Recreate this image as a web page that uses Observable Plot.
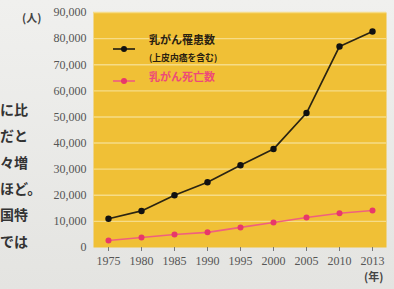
<!DOCTYPE html>
<html><head><meta charset="utf-8">
<script src="https://cdn.jsdelivr.net/npm/d3@7"></script>
<script src="https://cdn.jsdelivr.net/npm/@observablehq/plot@0.6"></script>
<style>
html,body{margin:0;padding:0;background:#e9e9e6;}
#wrap{position:relative;width:394px;height:289px;overflow:hidden;background:linear-gradient(#f0f0ee,#e4e4e1);}
.body{position:absolute;font-family:"Noto Sans CJK JP";font-size:14px;color:#333;font-weight:700;white-space:nowrap;}
.unit{position:absolute;font-family:"Noto Sans CJK JP";font-size:11px;color:#444;font-weight:700;}
.leg{position:absolute;font-family:"Noto Sans CJK JP";font-weight:700;line-height:1.05;white-space:nowrap;}
</style></head><body>
<div id="wrap"></div>
<script>
const years = ["1975","1980","1985","1990","1995","2000","2005","2010","2013"];
const incidence = [11000, 14000, 20000, 25000, 31500, 37700, 51500, 77000, 82700];
const deaths = [2700, 3800, 5000, 5800, 7700, 9600, 11500, 13100, 14200];
const yTicks = [0,10000,20000,30000,40000,50000,60000,70000,80000,90000];
const seriesNames = ["乳がん罹患数", "乳がん死亡数"];
const seriesNote = "(上皮内癌を含む)";
const bodyLines = ["に比","だと","々増","ほど。","国特","では"];

const rows = years.flatMap((y,i)=>[
  {year:y, value:incidence[i], s:seriesNames[0]},
  {year:y, value:deaths[i], s:seriesNames[1]}
]);
const black = "#2b2412", pink = "#f0607e";
const chart = Plot.plot({
  width:394, height:289,
  marginLeft:93, marginRight:8, marginTop:12, marginBottom:42,
  style:{background:"transparent", fontFamily:"Liberation Serif", fontSize:"12px", color:"#555"},
  x:{type:"point", domain:years, padding:0.43, label:null},
  y:{domain:[0,90000], label:null},
  marks:[
    Plot.frame({fill:"#f0c036", stroke:null}),
    Plot.ruleY(yTicks.slice(1), {stroke:"#f6dc88", strokeWidth:1.4}),
    Plot.axisY({ticks:yTicks, tickSize:0, tickPadding:7, tickFormat:d3.format(","), fill:"#555"}),
    Plot.axisX({tickSize:4, tickPadding:5, stroke:"#777", fill:"#555"}),
    Plot.line(rows.filter(d=>d.s===seriesNames[1]), {x:"year", y:"value", stroke:pink, strokeWidth:1.6}),
    Plot.dot(rows.filter(d=>d.s===seriesNames[1]), {x:"year", y:"value", r:3, fill:"#e8386a"}),
    Plot.line(rows.filter(d=>d.s===seriesNames[0]), {x:"year", y:"value", stroke:black, strokeWidth:1.7}),
    Plot.dot(rows.filter(d=>d.s===seriesNames[0]), {x:"year", y:"value", r:3.2, fill:"#111"})
  ]
});
const wrap = document.getElementById("wrap");
wrap.appendChild(chart);
chart.style.position="absolute"; chart.style.left="0"; chart.style.top="0";

function add(cls, html, left, top, extra){
  const d=document.createElement("div"); d.className=cls; d.innerHTML=html;
  d.style.left=left+"px"; d.style.top=top+"px";
  if(extra) Object.assign(d.style, extra);
  wrap.appendChild(d); return d;
}
bodyLines.forEach((t,i)=>add("body", t, 0, 99+i*26.3));
add("unit","(人)",22,9);
add("unit","(年)",364,268);
// legend
const sw = (c,dc)=>`<svg width="22" height="8" style="vertical-align:middle"><line x1="0" y1="4" x2="22" y2="4" stroke="${c}" stroke-width="1.7"/><circle cx="11" cy="4" r="3" fill="${dc}"/></svg>`;
add("leg", sw(black,"#111"), 113, 38);
add("leg", `<span style="font-size:11px;color:#2a2010">${seriesNames[0]}</span><br><span style="font-size:8.8px;color:#2a2010">${seriesNote}</span>`, 149, 29);
add("leg", sw(pink,"#e8386a"), 113, 70);
add("leg", `<span style="font-size:11px;color:#ee4a78">${seriesNames[1]}</span>`, 149, 66);
</script>
</body></html>
